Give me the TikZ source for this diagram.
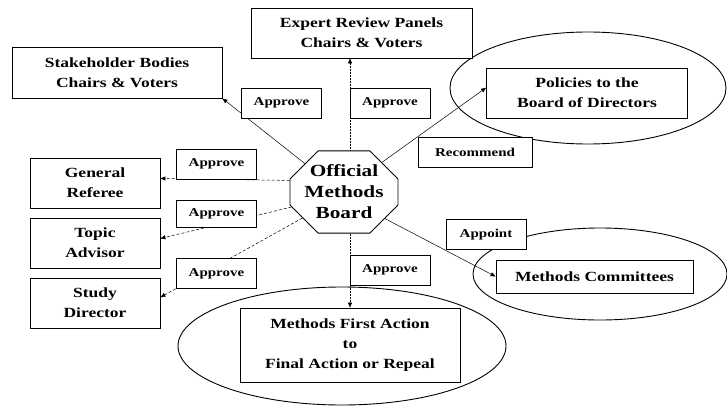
\documentclass[tikz,border=0pt]{standalone}
\usepackage{fontspec}
\setmainfont{Liberation Serif}[FakeStretch=1.25]
\usetikzlibrary{arrows.meta,shapes.misc}
\begin{document}
\begin{tikzpicture}[x=1pt,y=-1pt,
  box/.style={draw,line width=0.9pt,fill=white,align=center,inner sep=0pt,
    font=\fontsize{14}{20}\selectfont\bfseries},
  lbl/.style={draw,line width=0.9pt,fill=white,inner sep=0pt,
    minimum width=80pt,minimum height=30pt,font=\fontsize{12}{14}\selectfont\bfseries},
  link/.style={line width=0.5pt,-{Triangle[length=5pt,width=4pt]}}]
\useasboundingbox (0,0) rectangle (727,406);
% ellipses
\draw[line width=0.9pt] (588,88) ellipse [x radius=138pt, y radius=56pt];
\draw[line width=0.9pt] (600,274) ellipse [x radius=127pt, y radius=46pt];
\draw[line width=0.9pt] (342,346) ellipse [x radius=164pt, y radius=59pt];
% boxes
\node[box,minimum width=221pt,minimum height=50pt] (expert) at (361.5,33) {Expert Review Panels\\Chairs \& Voters};
\node[box,minimum width=210pt,minimum height=51pt] (stake) at (117,72.5) {Stakeholder Bodies\\Chairs \& Voters};
\node[box,minimum width=201pt,minimum height=50pt] (policies) at (587,93) {Policies to the\\Board of Directors};
\node[box,minimum width=130pt,minimum height=50pt] (genref) at (95,183) {General\\Referee};
\node[box,minimum width=130pt,minimum height=50pt] (topic) at (95,243) {Topic\\Advisor};
\node[box,minimum width=130pt,minimum height=50pt] (study) at (95,303) {Study\\Director};
\node[box,minimum width=197pt,minimum height=33pt] (committees) at (594.5,276.5) {Methods Committees};
\node[box,minimum width=220pt,minimum height=74pt] (mfa) at (350,345) {Methods First Action\\to\\Final Action or Repeal};
% board
\node[draw,chamfered rectangle,chamfered rectangle xsep=14pt,chamfered rectangle ysep=14pt,
  minimum width=108pt,minimum height=74pt,inner sep=0pt,line width=0.9pt,fill=white,
  align=center,font=\fontsize{17}{21}\selectfont\bfseries] (omb) at (344,192) {Official\\Methods\\Board};
% connectors
\foreach \i/\j in {144/stake.south east,38/policies.177,327/committees.west} {
  \draw[link] (omb.\i) -- (\j);
}
\foreach \i/\j in {168/genref.4,196/topic.4,212/study.5} {
  \draw[link,densely dashed] (omb.\i) -- (\j);
}
\draw[link,densely dotted] (omb.north -| mfa.north) -- (mfa.north |- expert.south);
\draw[link,densely dotted] (omb.south -| mfa.north) -- (mfa.north);
% labels
\node[lbl] (apstake) at (281.5,103) {Approve};
\node[lbl] (apexpert) at (390,103) {Approve};
\node[lbl,minimum width=114pt] (recommend) at (475,152.5) {Recommend};
\node[lbl] (apgenref) at (216.5,164) {Approve};
\node[lbl,minimum height=27pt] (aptopic) at (216.5,213.5) {Approve};
\node[lbl] (apstudy) at (216.5,273.5) {Approve};
\node[lbl] (apmfa) at (390,270) {Approve};
\node[lbl] (appoint) at (486,234.5) {Appoint};
\end{tikzpicture}
\end{document}
